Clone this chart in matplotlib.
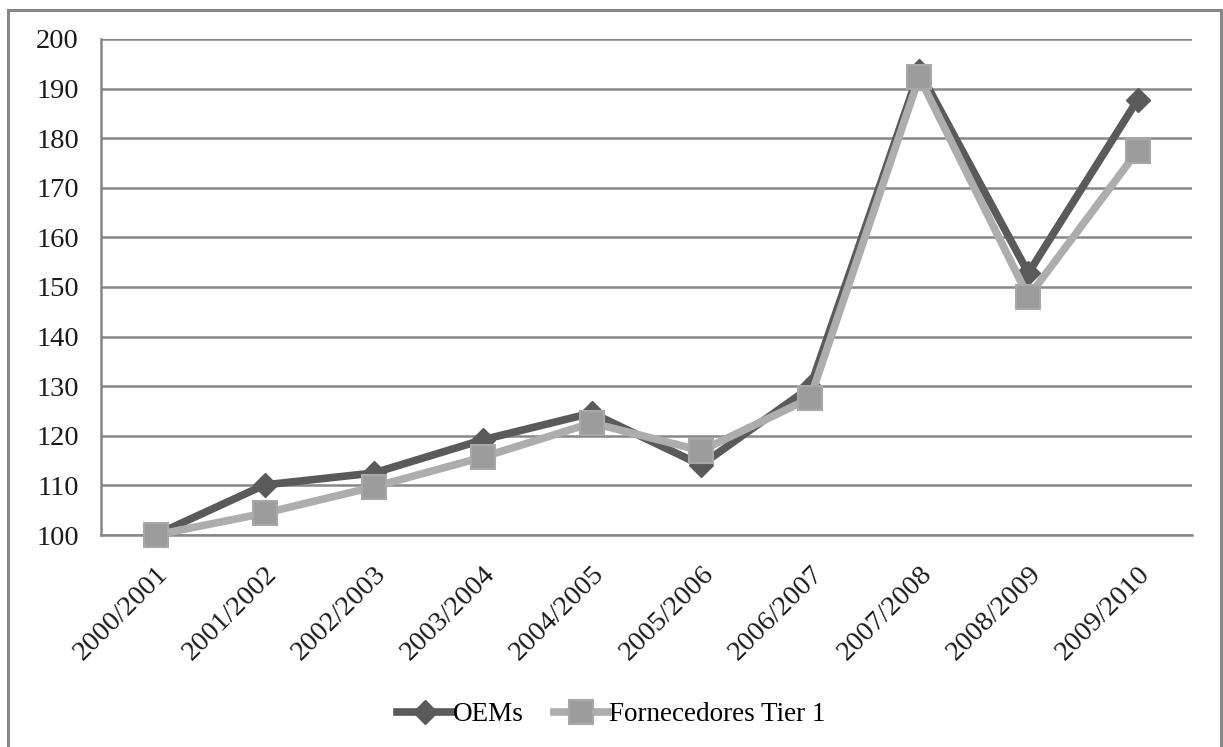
import matplotlib.pyplot as plt
from matplotlib.patches import Rectangle

plt.rcParams['font.family'] = ['Liberation Serif', 'DejaVu Serif']

# data
periods = ['2000/2001', '2001/2002', '2002/2003', '2003/2004', '2004/2005',
           '2005/2006', '2006/2007', '2007/2008', '2008/2009', '2009/2010']
oems = [100, 110.1, 112.5, 119.2, 124.6, 114.1, 129.8, 193.5, 152.8, 187.7]
tier1 = [100, 104.4, 109.7, 115.7, 122.6, 117.0, 127.6, 192.3, 148.0, 177.4]
yticks = [100, 110, 120, 130, 140, 150, 160, 170, 180, 190, 200]

DARK = '#5a5a5a'
LIGHT = '#adadad'
GRID = '#878787'

fig = plt.figure(figsize=(12.23, 7.47), dpi=100)
ax = fig.add_axes([0.0826, 0.2838, 0.8921, 0.664])

x = list(range(len(periods)))
ax.plot(x, oems, color=DARK, lw=5.5, marker='D', ms=12,
        markerfacecolor=DARK, markeredgecolor=DARK, label='OEMs',
        zorder=3, clip_on=False)
ax.plot(x, tier1, color=LIGHT, lw=5.5, marker='s', ms=17,
        markerfacecolor='#9c9c9c', markeredgecolor='#a8a8a8', mew=1.5,
        label='Fornecedores Tier 1', zorder=4, clip_on=False)

ax.set_xlim(-0.5, len(periods) - 0.5)
ax.set_ylim(100, 200)
ax.set_yticks(yticks)
ax.set_xticks(x)
ax.set_xticklabels(periods, rotation=45, ha='right', rotation_mode='anchor')
ax.tick_params(axis='both', length=0, labelsize=20.5, colors='#1a1a1a')
ax.tick_params(axis='y', pad=16)
ax.tick_params(axis='x', pad=19)

ax.grid(axis='y', color=GRID, lw=1.8, zorder=0)
for s in ['top', 'right']:
    ax.spines[s].set_visible(False)
ax.spines['left'].set_color(GRID)
ax.spines['left'].set_linewidth(1.8)
ax.spines['bottom'].set_color(GRID)
ax.spines['bottom'].set_linewidth(1.8)

fig.legend(loc='center', bbox_to_anchor=(0.5, 0.043), ncol=2, frameon=False,
           fontsize=19.5, handlelength=2.0, columnspacing=1.1,
           handletextpad=0.05)

# outer frame around the chart
fig.patches.append(Rectangle((8 / 1223, -0.05), 1213 / 1223, 1.05 - 10 / 747,
                             transform=fig.transFigure, fill=False,
                             edgecolor=GRID, lw=2.2))

fig.savefig('out.png', dpi=100)
